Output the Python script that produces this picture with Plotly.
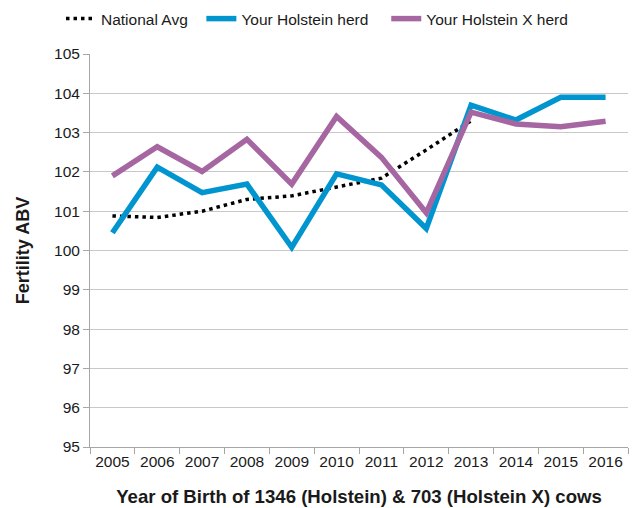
import plotly.graph_objects as go

years = ["2005", "2006", "2007", "2008", "2009", "2010", "2011", "2012", "2013", "2014", "2015", "2016"]
national_avg = [100.88, 100.84, 101.0, 101.30, 101.39, 101.62, 101.84, 102.56, 103.3, None, None, None]
holstein = [100.45, 102.12, 101.47, 101.69, 100.08, 101.95, 101.67, 100.56, 103.70, 103.32, 103.90, 103.90]
holstein_x = [101.90, 102.64, 102.01, 102.83, 101.69, 103.41, 102.37, 100.96, 103.52, 103.22, 103.15, 103.29]

NB = "\u00a0"
fig = go.Figure()
fig.add_trace(go.Scatter(x=years, y=national_avg, mode="lines", name="National Avg" + NB * 2,
                         line=dict(color="black", width=3.5, dash="3.5px,4px")))
fig.add_trace(go.Scatter(x=years, y=holstein, mode="lines", name="Your Holstein herd" + NB * 3,
                         line=dict(color="#0095CF", width=5.5)))
fig.add_trace(go.Scatter(x=years, y=holstein_x, mode="lines", name="Your Holstein X herd",
                         line=dict(color="#A566A1", width=5.5)))

# page body has an 8px default margin, so margins are offset to compensate
fig.update_layout(
    width=640, height=508,
    margin=dict(l=82, r=20, t=46, b=69, autoexpand=False),
    paper_bgcolor="white", plot_bgcolor="white",
    font=dict(family="Liberation Sans, Arial, sans-serif", size=15.5, color="#1a1a1a"),
    showlegend=True,
    legend=dict(orientation="h", x=(61 - 90) / 538, xanchor="left", y=1.089, yanchor="middle",
                font=dict(size=15.5), tracegroupgap=0, traceorder="normal",
                bgcolor="rgba(0,0,0,0)"),
)
fig.update_xaxes(
    type="category", range=[-0.5, 11.5], tickson="boundaries",
    showline=True, linecolor="#A6A6A6", linewidth=1,
    ticks="outside", ticklen=6, tickcolor="#A6A6A6",
    showgrid=False, tickfont=dict(size=15.5),
    title=dict(text="<b>Year of Birth of 1346 (Holstein) & 703 (Holstein X) cows</b>",
               font=dict(size=18.6), standoff=21),
)
fig.update_yaxes(
    range=[95, 105], dtick=1,
    showline=True, linecolor="#A6A6A6", linewidth=1,
    ticks="outside", ticklen=6, tickcolor="#A6A6A6",
    showgrid=True, gridcolor="#C8C8C8", gridwidth=1,
    tickfont=dict(size=15.5), zeroline=False,
    title=dict(text="<b>Fertility ABV</b>", font=dict(size=18), standoff=19),
)

fig.write_html("out.html")
